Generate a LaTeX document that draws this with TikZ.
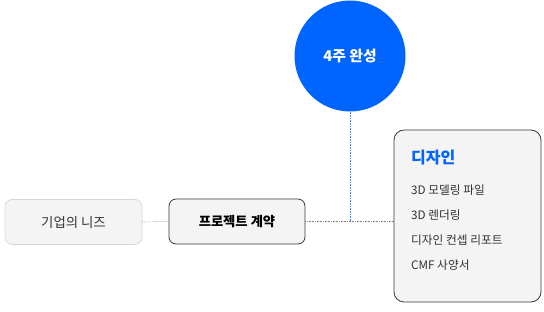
\documentclass[tikz,border=0pt]{standalone}
\usepackage{fontspec}
\setmainfont{Noto Sans CJK KR}
\definecolor{boxfill}{HTML}{F4F4F4}
\definecolor{lightborder}{HTML}{D6D6D6}
\definecolor{darkborder}{HTML}{3A3A3A}
\definecolor{brandblue}{HTML}{0064FF}
\definecolor{txt}{HTML}{333333}
\tikzset{
  softbox/.style={draw=lightborder, fill=boxfill, rounded corners=7pt, line width=0.6pt, minimum width=137pt, minimum height=45pt, font=\fontsize{13.4}{15}\selectfont, text=txt},
  hardbox/.style={draw=darkborder, fill=boxfill, rounded corners=7pt, line width=0.8pt, minimum width=136pt, minimum height=45pt, font=\fontsize{13.3}{15}\selectfont\bfseries, text=black},
  bigbox/.style={draw=darkborder, fill=boxfill, rounded corners=10pt, line width=0.8pt, minimum width=147pt, minimum height=172pt},
  bluecircle/.style={circle, fill=brandblue, minimum size=111pt, inner sep=0pt, text=white, font=\fontsize{14.8}{17}\selectfont\bfseries},
  link/.style={densely dotted, draw=gray, line width=0.6pt},
  bluelink/.style={densely dotted, draw=brandblue!80, line width=0.6pt},
  item/.style={anchor=west, inner sep=0pt, font=\fontsize{11.7}{13}\selectfont, text=txt}
}
\begin{document}
\begin{tikzpicture}[x=1pt,y=1pt]
\useasboundingbox (0,0) rectangle (544,-312);
\node[softbox] (needs) at (73.5,-222) {기업의 니즈};
\node[hardbox] (contract) at (237,-221.5) {프로젝트 계약};
\node[bluecircle] (weeks) at (350,-56) {4주 완성};
\node[bigbox] (design) at (467.5,-216) {};
\coordinate (join) at (weeks.south |- contract.east);
\coordinate (entry) at (design.west |- contract.east);
\draw[link] (needs.east) -- (contract.west);
\draw[link] (contract.east) -- (entry);
\draw[bluelink] (weeks.south) -- (join);
\node[anchor=west, inner sep=0pt, font=\fontsize{16}{18}\selectfont\bfseries, text=brandblue] (title) at (411,-158) {디자인};
\node[item] (i1) at (411,-190) {3D 모델링 파일};
\node[item] (i2) at (411,-215) {3D 렌더링};
\node[item] (i3) at (411,-240) {디자인 컨셉 리포트};
\node[item] (i4) at (411,-265) {CMF 사양서};
\end{tikzpicture}
\end{document}
